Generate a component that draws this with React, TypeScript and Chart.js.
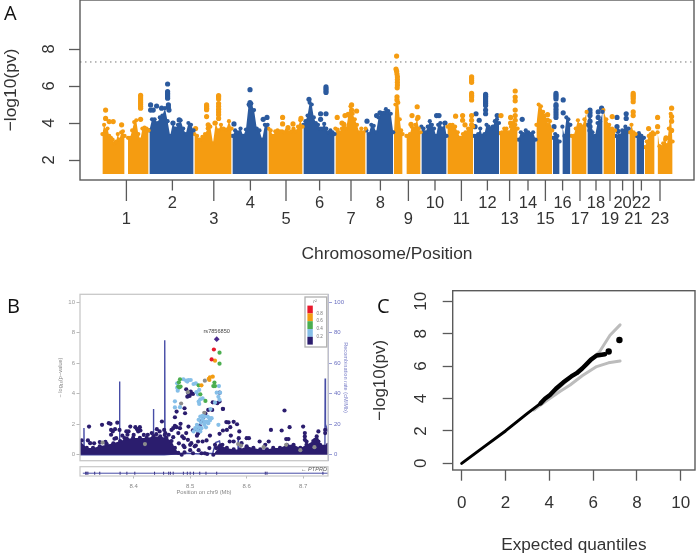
import React, { useEffect, useRef } from "react";
import { Chart, registerables } from "chart.js";

Chart.register(...registerables);

const SANS = '"Liberation Sans", Arial, sans-serif';
const ORANGE = "#f59c11";
const BLUE = "#2b5a9e";
const AXIS = "#5a5a5a";
const INK = "#333333";
const NAVY = "#2b1d6e";
const SKY = "#86bfe8";
const GREEN = "#4bae50";
const AMBER = "#f39c12";
const RED = "#e8192c";
const GREY = "#8c8c8c";
const REC = "#474da6";

/* ---------- Panel A: Manhattan plot (genome position in Mb, -log10 p) ---------- */
const chromosomeLabels = ["1","2","3","4","5","6","7","8","9","10","11","12","13","14","15","16","17","18","19","20","21","22","23"];
const chromosomeCentres = [122,352,559,742,920,1088,1245,1392,1532,1665,1797,1927,2038,2130,2217,2303,2390,2470,2540,2603,2657,2697,2790];
const manhattanBase = 1.24;
const genomeThreshold = 7.3;

const chr1aTops = [3.4,3.9,3.6,3.7,3.3,3.2,3.1,2.9,3.0,3.4,3.1,3.5,3.55,3.3];
const chr1bTops = [3.2,3.2,3.6,4.05,4.15,3.4,3.1,3.7,3.75,3.7,3.6];
const chr2Tops = [3.6,4.2,4.2,4.0,4.3,4.4,4.8,4.1,3.3,4.0,3.7,3.9,4.15,3.7,3.4,4.0,3.9,3.6];
const chr3Tops = [3.4,3.3,3.1,3.25,3.4,3.7,3.8,2.9,4.0,3.6,3.9,3.7,3.65,4.1,3.7];
const chr4Tops = [3.3,3.6,3.5,3.7,3.3,3.65,5.0,5.05,4.7,3.7,3.6,3.1,3.9,3.9];
const chr5Tops = [3.7,3.6,3.3,3.55,3.6,3.55,3.55,3.5,3.6,3.5,3.55,3.7,3.55,3.8,4.15,3.8];
const chr6Tops = [3.9,4.1,4.4,5.1,5.0,4.3,4.0,3.9,3.7,3.7,3.95,3.7,3.5,3.6,3.5,3.4];
const chr7Tops = [3.7,3.65,3.5,3.7,3.95,3.7,4.4,4.9,4.5,4.2,3.9,3.5,3.7,3.5,3.7];
const chr8Tops = [3.6,3.4,3.9,3.85,3.5,4.3,4.5,4.55,4.75,4.65,4.5,3.5];
const chr9aTops = [3.5,5.0,5.3,5.1,4.2,3.6,3.4];
const chr9bTops = [3.3,3.3,3.4,3.8,3.7,3.9,4.2,3.7,3.5];
const chr10Tops = [3.8,3.7,3.5,3.8,4.1,3.9,3.7,3.3,3.9,4.0,3.7,4.0,3.3];
const chr11Tops = [3.8,3.9,3.9,3.8,3.5,3.2,3.4,3.5,3.7,3.7,3.8];
const chr12Tops = [3.3,3.3,3.4,3.7,3.3,3.4,3.9,3.8,3.7,3.8,4.1,4.2,4.0];
const chr13Tops = [3.45,3.5,3.7,3.7,3.5,3.8,4.0,3.9,3.7];
const chr14Tops = [3.1,3.5,3.4,3.6,3.5,3.4,3.5,3.1];
const chr15Tops = [3.9,5.0,4.9,4.6,4.4,3.9,4.1,3.6];
const chr16aTops = [3.2,3.4,3.3,3.0];
const chr16bTops = [3.8,3.3,4.3,4.2,3.9];
const chr17Tops = [3.3,3.3,3.7,4.15,3.9,3.8,4.2,4.6];
const chr18Tops = [3.9,4.7,3.5,3.3,4.0,4.1,4.6];
const chr19Tops = [4.7,4.2,3.9,3.7,3.6];
const chr20Tops = [3.3,3.3,3.6,3.8,3.7];
const chr21Tops = [3.5,3.9,3.5,3.4];
const chr22Tops = [3.3,3.45,3.3,3.2];
const chr23aTops = [2.7,3.0,3.3,3.4,3.5,3.4];
const chr23bTops = [3.5,2.75,2.7,2.9,3.1,2.8,3.7,4.5,3.0];

// [start Mb, end Mb, chromosome tops, colour index]
const chromosomeSegments: [number, number, number[], number][] = [
  [2,113,chr1aTops,0],[130,233,chr1bTops,0],[237,458,chr2Tops,1],[462,648,chr3Tops,0],[652,828,chr4Tops,1],
  [832,1003,chr5Tops,0],[1007,1163,chr6Tops,1],[1167,1318,chr7Tops,0],[1322,1456,chr8Tops,1],[1460,1503,chr9aTops,0],
  [1522,1593,chr9bTops,0],[1597,1723,chr10Tops,1],[1727,1856,chr11Tops,0],[1860,1985,chr12Tops,1],[1989,2078,chr13Tops,0],
  [2082,2168,chr14Tops,1],[2172,2251,chr15Tops,0],[2255,2288,chr16aTops,1],[2302,2342,chr16bTops,1],[2347,2423,chr17Tops,0],
  [2427,2503,chr18Tops,1],[2507,2565,chr19Tops,0],[2569,2633,chr20Tops,1],[2637,2668,chr21Tops,0],[2672,2710,chr22Tops,1],
  [2714,2763,chr23aTops,0],[2778,2853,chr23bTops,0],
];

const orangeHits: [number, number][] = [
  [18,4.7],[18,4.25],[36,4.08],[56,4.08],[98,3.9],
  [193,5.5],[193,5.4],[193,5.3],[193,5.2],[193,5.1],[193,5.0],[193,4.9],[193,4.8],[193,4.2],
  [468,3.7],[523,4.98],[523,4.9],[523,4.8],[523,4.72],[523,4.35],[531,3.9],
  [583,5.48],[583,5.4],[583,5.3],[583,5.05],[583,4.9],[583,4.75],[583,4.6],[583,4.45],[583,4.25],[565,4.0],
  [903,4.3],[903,3.95],[930,3.75],[955,3.95],[995,4.25],
  [1176,4.3],[1215,4.4],[1231,4.47],[1248,4.98],[1248,4.7],[1273,4.65],[1200,4.0],[1210,3.9],
  [1473,7.62],[1470,6.92],[1473,6.8],[1475,6.65],[1477,6.5],[1477,6.35],[1477,6.2],[1477,6.05],[1476,5.9],[1475,5.42],[1475,5.25],
  [1576,4.88],[1550,4.4],[1545,3.93],[1580,4.3],
  [1768,4.37],[1803,4.4],[1803,4.15],[1848,6.5],[1848,6.4],[1848,6.3],[1848,6.2],[1848,5.6],[1848,5.5],[1848,5.4],[1848,5.25],[1848,4.4],[1848,4.15],[1848,3.9],[1815,3.9],
  [2066,5.73],[2066,5.4],[2066,5.2],[2066,4.7],[2066,4.4],[2066,4.15],[1995,4.4],[2043,4.3],[2043,4.0],
  [2228,4.45],[2228,4.15],[2551,4.35],
  [2656,5.6],[2656,5.5],[2656,5.4],[2656,5.3],[2656,5.15],[2656,4.6],[2656,4.4],
  [2733,3.7],[2778,4.3],[2778,3.8],[2820,3.2],[2848,4.8],[2848,4.35],[2848,4.1],[2848,3.6],
];
const blueHits: [number, number][] = [
  [243,4.98],[273,4.92],[243,4.7],[256,4.7],[298,4.8],[328,6.11],[328,5.7],[328,5.6],[328,5.52],[328,5.42],[328,5.34],[332,4.98],[332,4.85],[335,4.7],[386,4.17],[355,4.0],
  [660,3.95],[740,5.8],[740,5.1],[740,4.95],[806,4.2],[825,4.3],
  [1035,5.28],[1120,5.95],[1120,5.85],[1120,5.75],[1120,5.65],[1093,4.5],[1093,4.2],[1120,4.5],
  [1325,4.1],[1373,4.4],[1390,4.55],[1673,4.4],[1685,4.4],[1715,4.0],
  [1918,5.55],[1918,5.45],[1918,5.35],[1918,5.25],[1918,5.15],[1918,5.05],[1918,4.95],[1918,4.7],[1918,4.5],[1870,4.5],[1886,4.15],[1865,3.8],[1976,4.4],
  [2101,4.2],[2270,5.6],[2270,5.5],[2270,5.4],[2270,5.3],[2270,5.0],[2270,4.9],[2270,4.75],[2270,4.6],[2270,4.45],[2270,4.3],[2260,3.8],[2306,5.25],[2306,4.55],
  [2440,4.7],[2440,4.55],[2440,4.4],[2440,4.1],[2440,3.8],[2440,3.6],[2481,4.6],[2481,4.3],[2498,4.8],
  [2575,4.3],[2575,3.8],[2621,4.5],[2621,4.25],[2580,3.55],
];

/* ---------- Panel B: regional plot ---------- */
const regionalLeftTicks = [0,2,4,6,8,10];
const regionalRightTicks = [0,20,40,60,80,100];
const regionalXTicks = [8.4,8.5,8.6,8.7];
const leadSnp: [number, number][] = [[8.547,7.58]];
const leadSnpName = "rs7856850";
const redSnps: [number, number][] = [[8.542,6.9],[8.538,6.25]];
const amberSnps: [number, number][] = [[8.544,6.17],[8.540,5.12],[8.535,5.08],[8.534,4.9],[8.533,4.98],[8.520,4.55]];
const greenSnps: [number, number][] = [[8.552,6.69],[8.552,5.97],[8.482,4.95],[8.480,4.75],[8.479,4.47],[8.483,4.47],[8.481,4.42],[8.543,4.73],[8.541,4.5],[8.544,4.5],[8.515,4.55],[8.518,3.96],[8.527,3.53]];
const skySnps: [number, number][] = [
  [8.477,4.68],[8.478,4.2],[8.488,4.95],[8.493,4.86],[8.497,4.9],[8.501,4.9],[8.495,4.8],[8.506,4.64],[8.510,4.68],[8.516,4.25],[8.551,4.5],[8.547,4.07],[8.553,4.07],[8.550,3.8],[8.552,3.6],[8.544,3.42],
  [8.473,3.5],[8.473,3.1],[8.482,3.12],[8.515,3.49],[8.518,3.64],[8.516,3.33],[8.522,3.7],[8.536,3.0],[8.550,1.96],[8.477,4.4],[8.511,4.1],[8.514,3.95],
  [8.506,1.53],[8.509,1.74],[8.512,1.96],[8.515,2.29],[8.518,2.5],[8.522,2.55],[8.526,2.5],[8.518,1.53],[8.520,1.74],[8.525,1.96],[8.529,2.18],[8.534,2.4],[8.538,2.4],[8.532,2.07],[8.528,1.8],
  [8.513,1.6],[8.516,1.8],[8.519,2.1],[8.522,2.3],[8.526,2.15],[8.531,2.5],[8.535,2.25],
];
const greySnps: [number, number][] = [[8.526,4.86],[8.484,3.36],[8.496,4.1],[8.525,2.75],[8.345,0.8],[8.59,0.6],[8.63,0.5],[8.67,0.65],[8.695,0.3],[8.72,0.5],[8.585,0.7],[8.42,0.7]];
const navySnps: [number, number][] = [
  [8.321,1.85],[8.308,0.94],[8.319,0.94],[8.323,0.76],[8.340,0.83],[8.344,1.96],[8.356,2.07],[8.359,2.03],[8.371,2.1],[8.360,1.63],[8.363,1.53],[8.360,1.31],[8.367,1.68],[8.375,1.63],[8.369,1.09],[8.352,0.72],
  [8.387,1.53],[8.391,1.53],[8.394,1.85],[8.389,1.31],[8.384,1.09],[8.403,1.81],[8.406,1.68],[8.411,1.81],[8.412,1.59],[8.408,1.53],[8.425,1.31],[8.432,1.42],[8.441,1.68],[8.446,1.53],[8.450,2.18],[8.454,1.63],[8.456,1.42],
  [8.462,1.31],[8.467,1.63],[8.470,1.74],[8.473,1.9],[8.476,1.81],[8.479,1.42],[8.482,1.74],[8.486,1.2],[8.489,1.09],[8.493,1.42],[8.496,0.98],[8.502,0.76],[8.508,0.55],[8.514,0.87],
  [8.493,4.29],[8.497,4.03],[8.501,4.14],[8.505,3.99],[8.495,3.81],[8.499,3.86],[8.500,3.98],[8.473,2.46],[8.476,2.83],[8.490,3.05],[8.491,2.72],[8.483,2.03],[8.497,1.85],[8.505,1.6],
  [8.558,3.0],[8.552,3.49],[8.552,4.07],[8.548,3.38],[8.539,2.94],[8.532,2.94],[8.526,2.6],[8.540,3.44],[8.558,3.01],[8.564,2.14],[8.568,2.12],[8.577,2.16],[8.583,2.0],[8.571,1.81],[8.558,1.59],[8.565,1.63],[8.572,1.26],[8.552,1.37],[8.535,1.26],[8.587,1.53],
  [8.577,0.87],[8.570,0.87],[8.586,1.09],[8.591,0.76],[8.600,1.09],[8.604,1.09],[8.643,1.63],[8.662,1.59],[8.667,2.9],[8.676,1.81],[8.670,1.03],[8.674,1.03],[8.700,1.85],[8.703,1.42],[8.703,1.2],[8.703,0.98],[8.706,0.87],
  [8.727,1.53],[8.739,1.63],[8.739,1.42],[8.623,0.87],[8.639,0.87],[8.633,0.65],[8.724,1.2],[8.721,0.98],[8.727,0.87],[8.529,0.94],[8.522,0.87],[8.544,0.65],[8.534,0.44],[8.526,0.1],[8.546,0.44],[8.557,0.65],[8.551,0.5],
  [8.510,1.7],[8.514,1.4],[8.517,1.9],[8.520,2.2],[8.523,2.45],[8.527,2.7],[8.512,1.25],[8.516,1.55],[8.50,0.3],[8.49,0.5],[8.51,0.6],[8.52,0.1],[8.515,0.3],[8.49,0.15],[8.50,0.65],[8.53,0.05],[8.505,0.1],
  [8.31,0.2],[8.33,0.75],[8.35,0.85],[8.366,1.05],[8.38,1.25],[8.40,1.3],[8.418,1.3],[8.44,1.35],[8.455,1.3],[8.47,1.15],[8.48,0.75],[8.488,0.6],
];
const baselineMassLeft: [number, number][] = [[8.305,0.9],[8.317,0.45],[8.328,0.45],[8.340,0.55],[8.352,0.65],[8.364,0.75],[8.376,0.9],[8.388,1.05],[8.399,1.1],[8.411,1.1],[8.423,1.1],[8.435,1.2],[8.447,1.2],[8.458,1.1],[8.467,0.9],[8.473,0.45],[8.479,0.13],[8.485,0]];
const baselineMassRight: [number, number][] = [[8.541,0],[8.553,0.6],[8.565,0.45],[8.577,0.35],[8.588,0.35],[8.600,0.55],[8.612,0.45],[8.624,0.35],[8.636,0.35],[8.647,0.45],[8.659,0.45],[8.671,0.65],[8.683,0.65],[8.695,0.45],[8.706,0.65],[8.718,0.9],[8.724,1.0],[8.730,0.65],[8.744,0.65]];
const recombinationRate: [number, number][] = [
  [8.305,0],[8.3115,0],[8.312,17.5],[8.3125,0],[8.3745,0],[8.375,48],[8.3755,0],[8.4345,0],[8.435,30],[8.4355,0],[8.4545,0],[8.455,75],[8.4555,0],
  [8.49,1],[8.52,0.5],[8.54,1],[8.545,8],[8.552,9],[8.556,1],[8.5845,1],[8.585,10],[8.5855,1],[8.7385,1],[8.739,50],[8.7395,20],[8.744,15],
];
const geneExons = [8.315,8.317,8.319,8.331,8.340,8.376,8.388,8.402,8.437,8.453,8.462,8.465,8.470,8.488,8.495,8.500,8.506,8.517,8.528,8.547,8.633,8.636,8.735];
const geneSpan = [8.31,8.744];
const geneName = "PTPRD";
const r2Labels = ["0.8","0.6","0.4","0.2"];
const r2Colours = [RED,AMBER,GREEN,SKY,NAVY];

/* ---------- Panel C: QQ plot ---------- */
const qqTicks = [0,2,4,6,8,10];
const qqObservedLow: [number, number][] = [[0,0],[1,1],[2,2],[3,3.08],[3.6,3.7]];
const qqObservedHigh: [number, number][] = [[3.6,3.7],[3.8,3.98],[4.03,4.22],[4.3,4.6],[4.64,5.0],[5,5.36],[5.25,5.56],[5.5,5.85],[5.7,6.12],[5.9,6.4],[6.16,6.65],[6.54,6.73]];
const qqTail: [number, number][] = [[6.71,6.9],[7.2,7.61]];
const qqUpper: [number, number][] = [[3.3,3.3],[4,4.1],[4.6,4.85],[5.2,5.55],[5.8,6.25],[6.3,6.9],[6.77,7.9],[7.23,8.54]];
const qqLower: [number, number][] = [[3.3,3.3],[4,3.98],[4.5,4.45],[4.95,4.83],[5.5,5.4],[6.16,5.97],[6.7,6.2],[7.23,6.32]];

const pts = (list: [number, number][]) => list.map(([x, y]) => ({ x, y }));
const setTicks = (vals: number[]) => (s: any) => { s.ticks = vals.map((value) => ({ value })); };
const fixWidth = (w: number) => (s: any) => { s.width = w; s.paddingTop = 0; s.paddingBottom = 0; s.paddingLeft = 0; s.paddingRight = 0; };
const fixHeight = (h: number) => (s: any) => { s.height = h; s.paddingTop = 0; s.paddingBottom = 0; s.paddingLeft = 0; s.paddingRight = 0; };
const frame = (colour: string, width: number) => ({
  id: "frame",
  afterDraw(c: any) {
    const a = c.chartArea, g = c.ctx;
    g.save(); g.strokeStyle = colour; g.lineWidth = width;
    g.strokeRect(a.left, a.top, a.right - a.left, a.bottom - a.top); g.restore();
  },
});
const base = (padding: any) => ({
  animation: false as const, responsive: false, events: [] as string[],
  layout: { padding, autoPadding: false },
  plugins: { legend: { display: false }, tooltip: { enabled: false } },
});
const dotSet = (list: [number, number][], colour: string, r: number, extra: any = {}) => ({
  data: pts(list), backgroundColor: colour, borderColor: colour, borderWidth: 0, pointRadius: r, showLine: false, ...extra,
});

function manhattanConfig(): any {
  const colours = [ORANGE, BLUE];
  const areas = chromosomeSegments.map(([a, b, tops, c]) => ({
    data: tops.map((y, i) => ({ x: a + ((b - a) * i) / (tops.length - 1), y })),
    backgroundColor: colours[c], borderColor: colours[c], borderWidth: 0, pointRadius: 2.1,
    showLine: true, tension: 0, fill: { value: manhattanBase },
  }));
  const edge = {
    id: "twoRowTicks",
    afterDraw(c: any) {
      const s = c.scales.x, g = c.ctx;
      g.save(); g.strokeStyle = AXIS; g.lineWidth = 1.3;
      chromosomeCentres.forEach((v, i) => {
        const x = s.getPixelForValue(v);
        g.beginPath(); g.moveTo(x, s.top); g.lineTo(x, s.top + (i % 2 ? 10.5 : 21)); g.stroke();
      });
      g.restore();
    },
  };
  return {
    type: "scatter",
    data: { datasets: [
      ...areas,
      dotSet(orangeHits, ORANGE, 2.6),
      dotSet(blueHits, BLUE, 2.6),
      { data: [{ x: -110, y: genomeThreshold }, { x: 2960, y: genomeThreshold }], borderColor: "#777", borderWidth: 1, borderDash: [1.5, 3.5], pointRadius: 0, showLine: true, order: -1 },
    ] },
    options: {
      ...base({ left: 0, right: 2, top: 0, bottom: 0 }),
      scales: {
        x: {
          type: "linear", min: -110, max: 2960,
          afterBuildTicks: setTicks(chromosomeCentres),
          afterFit: fixHeight(90),
          grid: { drawTicks: false, drawOnChartArea: false }, border: { display: false },
          ticks: { autoSkip: false, maxRotation: 0, padding: 15.5, color: INK, font: { family: SANS, size: 16.5, lineHeight: 0.98 },
            callback: (_: any, i: number) => (i % 2 ? [chromosomeLabels[i]] : ["", chromosomeLabels[i]]) },
          title: { display: true, text: "Chromosome/Position", color: INK, font: { family: SANS, size: 17.4 }, padding: { top: 0, bottom: 5.8 } },
        },
        y: {
          min: 0.92, max: 10.65,
          afterBuildTicks: setTicks([2, 4, 6, 8]),
          afterFit: fixWidth(80),
          grid: { drawOnChartArea: false, tickLength: 11, tickColor: AXIS, tickWidth: 1.3 }, border: { display: false },
          ticks: { minRotation: 90, maxRotation: 90, crossAlign: "center", padding: 15, color: INK, font: { family: SANS, size: 16.5 }, callback: (v: any) => String(v) },
          title: { display: true, text: "−log10(pv)", color: INK, font: { family: SANS, size: 17.4 }, padding: { top: 1, bottom: 0 } },
        },
      },
    },
    plugins: [frame(AXIS, 1.4), edge],
  };
}

function regionalConfig(): any {
  const overlay = {
    id: "regionalOverlay",
    afterDraw(c: any) {
      const g = c.ctx, a = c.chartArea;
      const sx = c.scales.x, sy = c.scales.y;
      g.save();
      g.fillStyle = "#444"; g.textAlign = "center"; g.textBaseline = "middle";
      g.font = `5.6px ${SANS}`;
      g.fillText(leadSnpName, sx.getPixelForValue(leadSnp[0][0]), sy.getPixelForValue(leadSnp[0][1]) - 7.5);
      // r2 legend
      const lx = a.right - 23, ly = a.top + 2.7, lw = 21.7, lh = 50;
      g.fillStyle = "#fff"; g.fillRect(lx, ly, lw, lh);
      g.strokeStyle = "#b0b0b0"; g.lineWidth = 1.3; g.strokeRect(lx, ly, lw, lh);
      r2Colours.forEach((col, i) => { g.fillStyle = col; g.fillRect(lx + 2.4, ly + 8.6 + i * 7.8, 5.4, 7.8); });
      g.fillStyle = "#777"; g.font = `4.6px ${SANS}`;
      r2Labels.forEach((t, i) => g.fillText(t, lx + 14.7, ly + 16.6 + i * 7.6));
      g.font = `italic 5px ${SANS}`; g.fillText("r²", lx + 10, ly + 4.4);
      g.restore();
    },
  };
  return {
    type: "scatter",
    data: { datasets: [
      { data: pts(recombinationRate), yAxisID: "yR", borderColor: REC, borderWidth: 1.4, pointRadius: 0, showLine: true, tension: 0, order: 6 },
      { data: pts(baselineMassLeft), backgroundColor: NAVY, borderColor: NAVY, borderWidth: 0, pointRadius: 2.1, showLine: true, fill: { value: 0 }, order: 5 },
      { data: pts(baselineMassRight), backgroundColor: NAVY, borderColor: NAVY, borderWidth: 0, pointRadius: 2.1, showLine: true, fill: { value: 0 }, order: 5 },
      dotSet(navySnps, NAVY, 2.1, { order: 4 }),
      dotSet(greySnps, GREY, 2.1, { order: 3.5 }),
      dotSet(skySnps, SKY, 2.1, { order: 3 }),
      dotSet(greenSnps, GREEN, 2.1, { order: 2 }),
      dotSet(amberSnps, AMBER, 2.1, { order: 1.5 }),
      dotSet(redSnps, RED, 2.1, { order: 1 }),
      dotSet(leadSnp, "#4b2a8c", 2.9, { pointStyle: "rectRot", order: 0 }),
    ] },
    options: {
      ...base({ left: 0, right: 0, top: 9.3, bottom: 2.3 }),
      scales: {
        x: { type: "linear", display: false, min: 8.305, max: 8.744 },
        y: {
          min: -0.39, max: 10.52,
          afterBuildTicks: setTicks(regionalLeftTicks),
          afterFit: fixWidth(80),
          grid: { drawOnChartArea: false, tickLength: 3.5, tickColor: "#bbb" }, border: { display: false },
          ticks: { padding: 1.5, color: "#999", font: { family: SANS, size: 6 }, callback: (v: any) => String(v) },
          title: { display: true, text: "− log₁₀(p−value)", color: "#888", font: { family: SANS, size: 5.6, lineHeight: 1 }, padding: { top: 58, bottom: 0 } },
        },
        yR: {
          position: "right", min: -3.9, max: 105.2,
          afterBuildTicks: setTicks(regionalRightTicks),
          afterFit: fixWidth(44),
          grid: { drawOnChartArea: false, tickLength: 4, tickColor: "#9a9fd8" }, border: { display: true, color: "#a9add9", width: 1 },
          ticks: { padding: 2, color: "#6a6fc0", font: { family: SANS, size: 6 }, callback: (v: any) => String(v) },
          title: { display: true, text: "Recombination rate (cM/Mb)", color: "#7a7fc8", font: { family: SANS, size: 5.6, lineHeight: 1 }, padding: { top: 24, bottom: 0 } },
        },
      },
    },
    plugins: [frame("#c8c8c8", 1.3), overlay],
  };
}

function geneConfig(): any {
  const label = {
    id: "geneLabel",
    afterDraw(c: any) {
      const g = c.ctx, a = c.chartArea;
      g.save(); g.fillStyle = "#555"; g.textAlign = "right"; g.textBaseline = "middle";
      g.font = `italic 5.6px ${SANS}`;
      g.fillText(`← ${geneName}`, a.right - 1, a.top + 2.8);
      g.restore();
    },
  };
  return {
    type: "scatter",
    data: { datasets: [
      { data: geneSpan.map((x) => ({ x, y: -0.4 })), borderColor: REC, borderWidth: 1, pointRadius: 0, showLine: true },
      { data: geneExons.map((x) => ({ x, y: -0.4 })), borderColor: NAVY, backgroundColor: NAVY, borderWidth: 1, pointStyle: "line", rotation: 90, pointRadius: 1.5, showLine: false },
    ] },
    options: {
      ...base({ left: 80, right: 44, top: 4.7, bottom: 0 }),
      scales: {
        x: {
          type: "linear", min: 8.305, max: 8.744,
          afterBuildTicks: setTicks(regionalXTicks),
          afterFit: fixHeight(78),
          grid: { drawOnChartArea: false, tickLength: 2.5, tickColor: "#bbb" }, border: { display: false },
          ticks: { padding: 4, color: "#888", autoSkip: false, maxRotation: 0, font: { family: SANS, size: 6 }, callback: (v: any) => Number(v).toFixed(1) },
          title: { display: true, text: "Position on chr9 (Mb)", color: "#888", font: { family: SANS, size: 5.8, lineHeight: 1 }, padding: { top: 0, bottom: 58.5 } },
        },
        y: { display: false, min: -1, max: 1 },
      },
    },
    plugins: [frame("#c8c8c8", 1.2), label],
  };
}

function qqConfig(): any {
  const line = (list: [number, number][], colour: string, w: number) => ({
    data: pts(list), borderColor: colour, backgroundColor: colour, borderWidth: w, pointRadius: 0, showLine: true, tension: 0, borderCapStyle: "round", borderJoinStyle: "round",
  });
  return {
    type: "scatter",
    data: { datasets: [
      line(qqObservedLow, "#000000", 3),
      line(qqObservedHigh, "#000000", 4.4),
      dotSet(qqTail, "#000000", 3.2),
      line(qqUpper, "#bcbcbc", 3),
      line(qqLower, "#bcbcbc", 3),
    ] },
    options: {
      ...base({ left: 0, right: 1, top: 5.7, bottom: 0 }),
      scales: {
        x: {
          type: "linear", min: -0.41, max: 10.65,
          afterBuildTicks: setTicks(qqTicks),
          afterFit: fixHeight(84),
          grid: { drawOnChartArea: false, tickLength: 10.7, tickColor: AXIS, tickWidth: 1.3 }, border: { display: false },
          ticks: { padding: 12, color: INK, maxRotation: 0, autoSkip: false, font: { family: SANS, size: 17 }, callback: (v: any) => String(v) },
          title: { display: true, text: "Expected quantiles", color: INK, font: { family: SANS, size: 17.2, lineHeight: 1 }, padding: { top: 0, bottom: 0.5 } },
        },
        y: {
          min: -0.41, max: 10.65,
          afterBuildTicks: setTicks(qqTicks),
          afterFit: fixWidth(82.7),
          grid: { drawOnChartArea: false, tickLength: 10, tickColor: AXIS, tickWidth: 1.3 }, border: { display: false },
          ticks: { minRotation: 90, maxRotation: 90, crossAlign: "center", padding: 11.5, color: INK, font: { family: SANS, size: 17 }, callback: (v: any) => String(v) },
          title: { display: true, text: "−log10(pv)", color: INK, font: { family: SANS, size: 17, lineHeight: 1 }, padding: { top: 1.5, bottom: 0 } },
        },
      },
    },
    plugins: [frame(AXIS, 1.4)],
  };
}

function Panel({ config, left, top, width, height, blur }: any) {
  const ref = useRef<HTMLCanvasElement | null>(null);
  useEffect(() => {
    const chart = new Chart(ref.current as HTMLCanvasElement, config());
    return () => chart.destroy();
  }, [config]);
  return (
    <canvas ref={ref} width={width} height={height}
      style={{ position: "absolute", left, top, width, height, filter: blur ? `blur(${blur}px)` : undefined }} />
  );
}

const letterStyle = (left: number, top: number): React.CSSProperties => ({
  position: "absolute", left, top, fontFamily: '"Open Sans", sans-serif', fontSize: 20, lineHeight: "24px", color: "#111",
});

export default function App() {
  return (
    <div style={{ position: "absolute", left: 0, top: 0, width: 696, height: 554, background: "#fff", overflow: "hidden" }}>
      <Panel config={manhattanConfig} left={0} top={0} width={696} height={270} blur={0.3} />
      <Panel config={regionalConfig} left={0} top={285} width={372} height={178} blur={0.45} />
      <Panel config={geneConfig} left={0} top={462} width={372} height={92} blur={0.4} />
      <Panel config={qqConfig} left={370} top={285} width={326} height={269} blur={0.25} />
      <div style={letterStyle(4, 1)}>A</div>
      <div style={letterStyle(7, 294)}>B</div>
      <div style={letterStyle(377, 294)}>C</div>
    </div>
  );
}
